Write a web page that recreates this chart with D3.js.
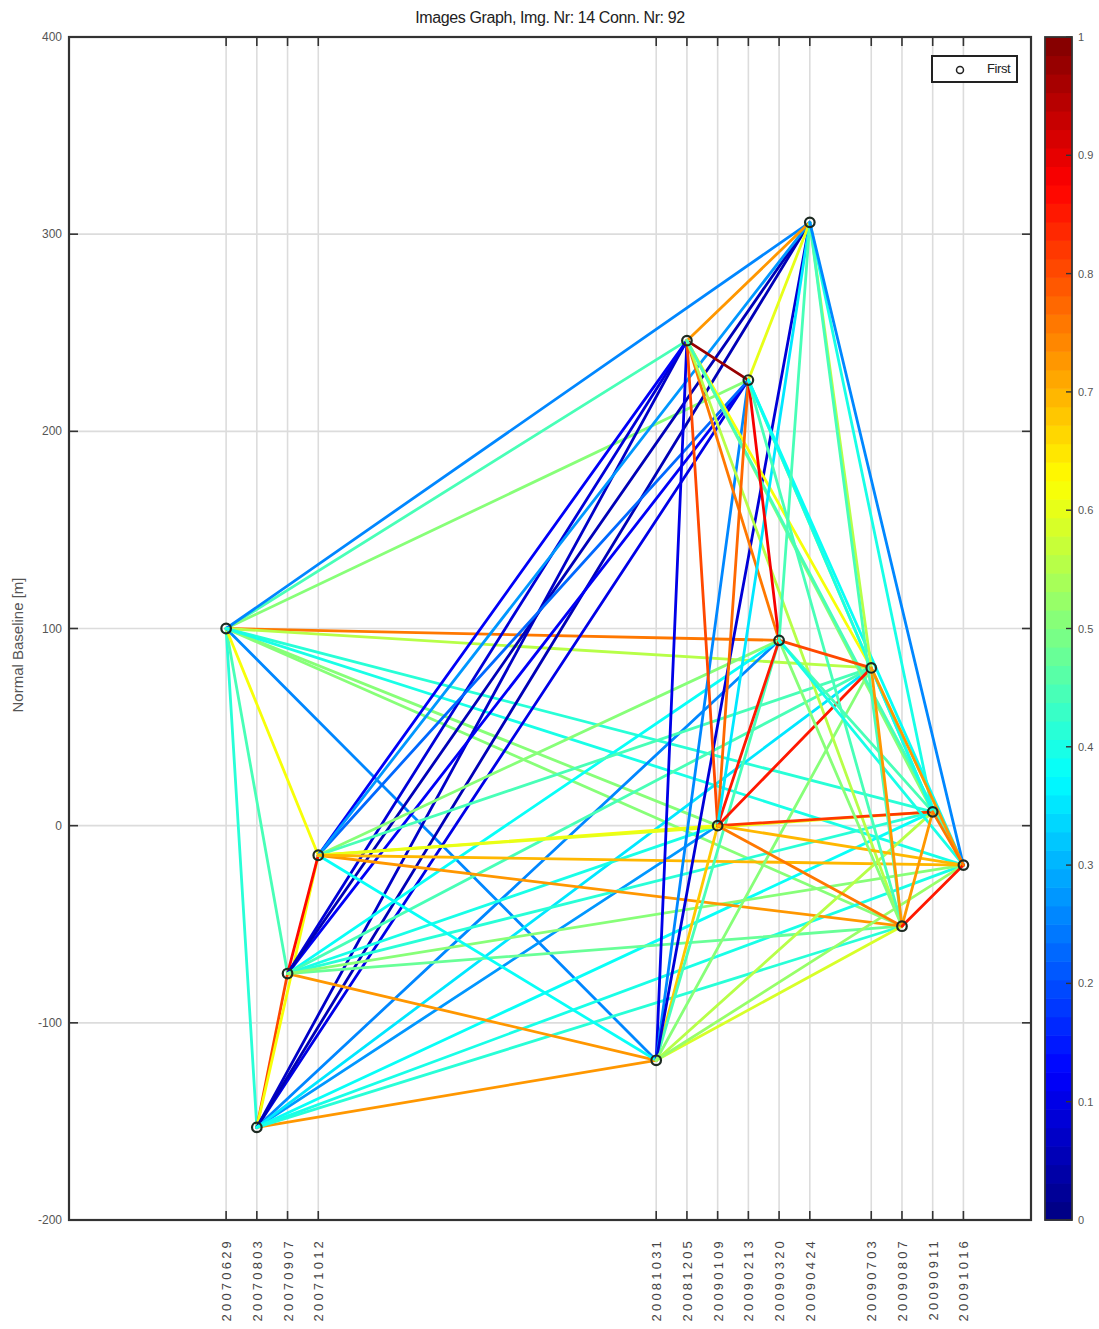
<!DOCTYPE html>
<html>
<head>
<meta charset="utf-8">
<script src="https://cdn.jsdelivr.net/npm/d3@7"></script>
<style>
  html, body { margin: 0; padding: 0; background: #fff; }
  svg { display: block; font-family: "Liberation Sans", Arial, sans-serif; }
</style>
</head>
<body>
<svg id="chart" width="1099" height="1329"></svg>
<script>
// Acquisition dates (yyyymmdd) and their normal baselines [m]
const dates = ["20070629","20070803","20070907","20071012","20081031","20081205","20090109",
               "20090213","20090320","20090424","20090703","20090807","20090911","20091016"];
const baselines = [100, -153, -75, -15, -119, 246, 0, 226, 94, 306, 80, -51, 7, -20];

// Interferometric connections: pairs of image indices and their coherence
const pairs = [
  [0,1],[0,2],[0,3],[0,4],[0,5],[0,6],[0,7],[0,8],[0,9],[0,10],[0,11],[0,12],[0,13],
  [1,2],[1,3],[1,4],[1,5],[1,6],[1,7],[1,8],[1,9],[1,10],[1,11],[1,12],[1,13],
  [2,3],[2,4],[2,5],[2,6],[2,7],[2,8],[2,9],[2,10],[2,11],[2,12],[2,13],
  [3,4],[3,5],[3,6],[3,7],[3,8],[3,9],[3,10],[3,11],[3,12],[3,13],
  [4,5],[4,6],[4,7],[4,8],[4,9],[4,10],[4,11],[4,12],[4,13],
  [5,6],[5,7],[5,8],[5,9],[5,10],[5,11],[5,12],[5,13],
  [6,7],[6,8],[6,9],[6,10],[6,11],[6,12],[6,13],
  [7,8],[7,9],[7,10],[7,11],[7,12],[7,13],
  [8,9],[8,10],[8,11],[8,12],[8,13],
  [9,10],[9,11],[9,12],[9,13],
  [10,11],[10,12],[10,13],
  [11,12],[11,13],
  [12,13]
];
const coherence = [
  0.42,0.45,0.62,0.26,0.45,0.50,0.50,0.75,0.25,0.55,0.50,0.42,0.40,
  0.80,0.62,0.72,0.07,0.28,0.10,0.25,0.05,0.35,0.42,0.38,0.40,
  0.87,0.72,0.08,0.40,0.12,0.38,0.06,0.45,0.48,0.42,0.50,
  0.38,0.12,0.62,0.22,0.50,0.27,0.45,0.72,0.60,0.70,
  0.10,0.68,0.25,0.45,0.08,0.50,0.58,0.55,0.52,
  0.80,0.98,0.75,0.72,0.62,0.55,0.50,0.45,
  0.78,0.85,0.35,0.85,0.75,0.82,0.70,
  0.88,0.60,0.55,0.45,0.40,0.38,
  0.45,0.80,0.50,0.45,0.40,
  0.55,0.45,0.40,0.26,
  0.72,0.40,0.72,
  0.72,0.85,
  0.75
];

const yTicks = [-200, -100, 0, 100, 200, 300, 400];
const cTicks = [0, 0.1, 0.2, 0.3, 0.4, 0.5, 0.6, 0.7, 0.8, 0.9, 1];
const titleText = "Images Graph, Img. Nr: 14 Conn. Nr: 92";
const yLabel = "Normal Baseline [m]";
const legendLabel = "First";

// MATLAB-style jet colormap, 64 levels
const NLEV = 64;
function jet(t) {
  const c = v => Math.max(0, Math.min(1, v));
  const r = c(1.5 - Math.abs(4 * t - 3));
  const g = c(1.5 - Math.abs(4 * t - 2));
  const b = c(1.5 - Math.abs(4 * t - 1));
  return d3.rgb(r * 255, g * 255, b * 255).formatHex();
}
function jetLevel(v) {
  const k = Math.min(NLEV - 1, Math.floor(v * NLEV));
  return jet((k + 0.5) / NLEV);
}

const parse = d3.timeParse("%Y%m%d");
const svg = d3.select("#chart");

const plot = { left: 69, right: 1031, top: 37, bottom: 1220 };
const x = d3.scaleTime()
  .domain([new Date(2007, 0, 1), new Date(2010, 0, 1)])
  .range([plot.left, plot.right]);
const y = d3.scaleLinear().domain([-200, 400]).range([plot.bottom, plot.top]);

const nodes = dates.map((d, i) => ({ date: parse(d), label: d, b: baselines[i] }));

// grid
const grid = svg.append("g");
grid.selectAll("line.vg").data(nodes).join("line")
  .attr("x1", d => x(d.date)).attr("x2", d => x(d.date))
  .attr("y1", plot.top).attr("y2", plot.bottom)
  .attr("stroke", "#dcdcdc").attr("stroke-width", 1.6);
grid.selectAll("line.hg").data(yTicks).join("line")
  .attr("x1", plot.left).attr("x2", plot.right)
  .attr("y1", d => y(d)).attr("y2", d => y(d))
  .attr("stroke", "#dcdcdc").attr("stroke-width", 1.6);

// connections
svg.append("g").selectAll("line").data(pairs).join("line")
  .attr("x1", d => x(nodes[d[0]].date)).attr("y1", d => y(nodes[d[0]].b))
  .attr("x2", d => x(nodes[d[1]].date)).attr("y2", d => y(nodes[d[1]].b))
  .attr("stroke", (d, i) => jetLevel(coherence[i]))
  .attr("stroke-width", 2.8)
  .attr("stroke-linecap", "round");

// images
svg.append("g").selectAll("circle").data(nodes).join("circle")
  .attr("cx", d => x(d.date)).attr("cy", d => y(d.b)).attr("r", 4.8)
  .attr("fill", "none").attr("stroke", "#1d2a22").attr("stroke-width", 2.2);

// axes box with inward ticks
const axisG = svg.append("g");
const tickLen = 9;
axisG.selectAll("line.xt").data(nodes).join("line")
  .attr("x1", d => x(d.date)).attr("x2", d => x(d.date))
  .attr("y1", plot.bottom).attr("y2", plot.bottom - tickLen)
  .attr("stroke", "#333").attr("stroke-width", 1.6);
axisG.selectAll("line.xt2").data(nodes).join("line")
  .attr("x1", d => x(d.date)).attr("x2", d => x(d.date))
  .attr("y1", plot.top).attr("y2", plot.top + tickLen)
  .attr("stroke", "#333").attr("stroke-width", 1.6);
axisG.selectAll("line.yt").data(yTicks).join("line")
  .attr("x1", plot.left).attr("x2", plot.left + tickLen)
  .attr("y1", d => y(d)).attr("y2", d => y(d))
  .attr("stroke", "#333").attr("stroke-width", 1.6);
axisG.selectAll("line.yt2").data(yTicks).join("line")
  .attr("x1", plot.right).attr("x2", plot.right - tickLen)
  .attr("y1", d => y(d)).attr("y2", d => y(d))
  .attr("stroke", "#333").attr("stroke-width", 1.6);
axisG.append("rect")
  .attr("x", plot.left).attr("y", plot.top)
  .attr("width", plot.right - plot.left).attr("height", plot.bottom - plot.top)
  .attr("fill", "none").attr("stroke", "#333").attr("stroke-width", 2.2);

// y tick labels
axisG.selectAll("text.yl").data(yTicks).join("text")
  .attr("x", plot.left - 7).attr("y", d => y(d) + 4)
  .attr("text-anchor", "end").attr("font-size", 12).attr("fill", "#555")
  .text(d => d);

// x tick labels (rotated dates)
axisG.selectAll("text.xl").data(nodes).join("text")
  .attr("transform", d => `translate(${x(d.date) + 5},${plot.bottom + 18}) rotate(-90)`)
  .attr("text-anchor", "end").attr("font-size", 13).attr("letter-spacing", 3.2)
  .attr("fill", "#444")
  .text(d => d.label);

// y axis title
svg.append("text")
  .attr("transform", `translate(23,645) rotate(-90)`)
  .attr("text-anchor", "middle").attr("font-size", 15).attr("fill", "#555")
  .text(yLabel);

// title
svg.append("text")
  .attr("x", 550).attr("y", 23)
  .attr("text-anchor", "middle").attr("font-size", 16).attr("fill", "#222")
  .attr("letter-spacing", -0.4)
  .text(titleText);

// legend
const lg = svg.append("g");
lg.append("rect").attr("x", 932).attr("y", 56).attr("width", 85).attr("height", 26)
  .attr("fill", "#fff").attr("stroke", "#222").attr("stroke-width", 2);
lg.append("circle").attr("cx", 960).attr("cy", 70).attr("r", 3.5)
  .attr("fill", "none").attr("stroke", "#222").attr("stroke-width", 1.5);
lg.append("text").attr("x", 987).attr("y", 73).attr("font-size", 13).attr("fill", "#222")
  .attr("letter-spacing", -0.4)
  .text(legendLabel);

// colorbar
const cb = { left: 1045, right: 1072, top: 37, bottom: 1220 };
const cy = d3.scaleLinear().domain([0, 1]).range([cb.bottom, cb.top]);
const levels = d3.range(NLEV);
svg.append("g").selectAll("rect").data(levels).join("rect")
  .attr("x", cb.left).attr("width", cb.right - cb.left)
  .attr("y", k => cy((k + 1) / NLEV)).attr("height", k => cy(k / NLEV) - cy((k + 1) / NLEV) + 0.6)
  .attr("fill", k => jet((k + 0.5) / NLEV));
const cbA = svg.append("g");
cbA.selectAll("line").data(cTicks).join("line")
  .attr("x1", cb.right).attr("x2", cb.right - 6)
  .attr("y1", d => cy(d)).attr("y2", d => cy(d))
  .attr("stroke", "#333").attr("stroke-width", 1.4);
cbA.append("rect").attr("x", cb.left).attr("y", cb.top)
  .attr("width", cb.right - cb.left).attr("height", cb.bottom - cb.top)
  .attr("fill", "none").attr("stroke", "#333").attr("stroke-width", 1.8);
cbA.selectAll("text").data(cTicks).join("text")
  .attr("x", cb.right + 6).attr("y", d => cy(d) + 4)
  .attr("font-size", 11).attr("fill", "#555")
  .text(d => d);
</script>
</body>
</html>
